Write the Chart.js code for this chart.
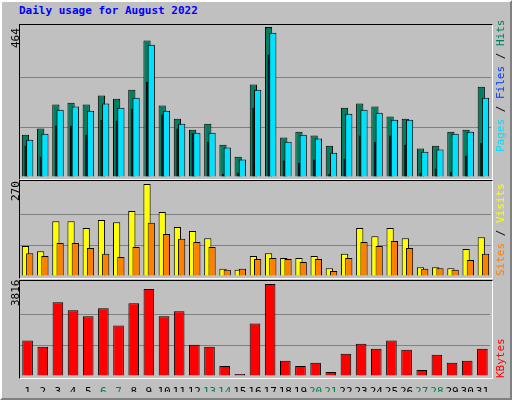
<!DOCTYPE html>
<html>
<head>
<meta charset="utf-8">
<script src="https://cdn.jsdelivr.net/npm/chart.js@4/dist/chart.umd.min.js"></script>
<style>
  body { margin: 0; width: 512px; height: 400px; background: #c0c0c0; position: relative; overflow: hidden; font-family: "DejaVu Sans Mono", monospace; }
  #frame { position: absolute; left: 0; top: 0; width: 508px; height: 396px; border-top: 2px solid #fff; border-left: 2px solid #fff; border-right: 2px solid #808080; border-bottom: 2px solid #808080; }
  .box { position: absolute; left: 19px; width: 472px; border-top: 1px solid #000; border-left: 1px solid #000; border-right: 1px solid #fff; border-bottom: 1px solid #fff; }
  canvas { position: absolute; }
  .rot { position: absolute; transform-origin: 0 0; transform: rotate(-90deg); white-space: nowrap; font-size: 11px; }
  #title { position: absolute; left: 19px; top: 4px; color: #0000ff; font-weight: bold; font-size: 11px; }
</style>
</head>
<body>
<div id="frame"></div>
<div id="title"></div>
<div class="box" style="top:24px;height:154px"></div>
<div class="box" style="top:180px;height:97px"></div>
<div class="box" style="top:280px;height:97px"></div>
<canvas id="c1a" style="left:20px;top:27px"></canvas>
<canvas id="c1b" style="left:20px;top:27px"></canvas>
<canvas id="c1c" style="left:20px;top:27px"></canvas>
<canvas id="c2a" style="left:20px;top:184px"></canvas>
<canvas id="c2b" style="left:20px;top:184px"></canvas>
<canvas id="c3" style="left:20px;top:284px"></canvas>
<div class="rot" id="max1" style="left:9px;top:48px"></div>
<div class="rot" id="max2" style="left:9px;top:201px"></div>
<div class="rot" id="max3" style="left:9px;top:306px"></div>
<div class="rot" id="leg1" style="left:494px;top:152px"></div>
<div class="rot" id="leg2" style="left:494px;top:276px"></div>
<div class="rot" id="leg3" style="left:494px;top:378px"></div>
<script>
const title = "Daily usage for August 2022";
const days = ["1","2","3","4","5","6","7","8","9","10","11","12","13","14","15","16","17","18","19","20","21","22","23","24","25","26","27","28","29","30","31"];
const weekend = ["6","7","13","14","20","21","27","28"];

const hits = [131,150,224,230,224,252,242,270,422,221,180,146,165,100,63,286,464,122,140,128,97,214,227,218,187,180,88,97,140,146,279];
const files = [115,134,208,218,205,227,214,245,409,205,165,137,137,91,54,270,446,109,131,119,75,196,208,199,177,177,78,85,134,140,245];
const pages = [97,63,159,159,131,177,174,211,295,193,150,137,109,10,13,214,378,51,44,54,10,57,128,109,128,100,13,26,16,66,106];
const visits = [88,73,161,161,141,164,158,191,270,188,144,132,111,21,18,59,67,53,53,59,23,65,141,117,141,111,26,26,23,79,114];
const sites = [67,59,97,97,82,65,56,85,156,123,109,100,85,18,21,50,53,50,41,50,15,53,100,88,103,82,21,23,18,47,65];
const kbytes = [1468,1216,3061,2726,2474,2810,2097,3020,3607,2474,2684,1300,1216,419,84,2181,3816,629,419,545,168,923,1342,1132,1468,1090,252,881,545,629,1132];

const maxHits = 464, maxVisits = 270, maxKbytes = 3816;

document.getElementById("title").textContent = title;
document.getElementById("max1").textContent = maxHits;
document.getElementById("max2").textContent = maxVisits;
document.getElementById("max3").textContent = maxKbytes;
document.getElementById("leg1").innerHTML =
  '<span style="color:#00e0ff">Pages</span> / <span style="color:#0040ff">Files</span> / <span style="color:#008060">Hits</span>';
document.getElementById("leg2").innerHTML =
  '<span style="color:#ff8000">Sites</span> / <span style="color:#ffff00">Visits</span>';
document.getElementById("leg3").innerHTML = '<span style="color:#ff0000">KBytes</span>';

const empty = days.map(() => null);

function bar(data, color, bp, cp) {
  return { data: data, backgroundColor: color, borderColor: "#000", borderWidth: 1,
    borderSkipped: "bottom", barPercentage: bp, categoryPercentage: cp || 0.56 };
}

// each layer is its own chart on a stacked canvas, so the right bar is drawn over the left one
function makeChart(id, w, h, datasets, max, showDays, showGrid) {
  const cv = document.getElementById(id);
  cv.width = w; cv.height = h;
  cv.style.width = w + "px";
  cv.style.height = h + "px";
  return new Chart(cv, {
    type: "bar",
    data: { labels: days, datasets: datasets },
    options: { responsive: false, animation: false, devicePixelRatio: 1,
      layout: { padding: 0 },
      plugins: { legend: { display: false }, tooltip: { enabled: false } },
      scales: {
        x: { display: showDays, offset: true, grid: { display: false }, border: { display: false },
          ticks: { color: (c) => weekend.includes(days[c.index]) ? "#008040" : "#000",
            font: { family: "DejaVu Sans Mono", size: 11 }, maxRotation: 0, autoSkip: false, padding: 2 },
          afterFit: (s) => { if (showDays) s.height = 16; } },
        y: { min: 0, max: max, display: true,
          ticks: { display: false, stepSize: max / 3 }, border: { display: false },
          grid: { drawTicks: false, lineWidth: 1,
            color: (c) => (showGrid && c.tick.value > 0 && c.tick.value < max - 1) ? "#808080" : "rgba(0,0,0,0)" },
          afterFit: (s) => { s.width = 0; } }
      } }
  });
}

makeChart("c1a", 471, 150, [bar(hits, "#008060", 1.7), bar(empty, "#000", 1.7)], maxHits, false, true);
makeChart("c1b", 471, 150, [bar(empty, "#000", 1.7), bar(files, "#00e0ff", 1.7)], maxHits, false, false);
makeChart("c1c", 471, 150, [bar(pages, "#0040ff", 0.5), bar(empty, "#000", 0.5)], maxHits, false, false);

makeChart("c2a", 471, 92, [bar(visits, "#ffff00", 1.7), bar(empty, "#000", 1.7)], maxVisits, false, true);
makeChart("c2b", 471, 92, [bar(empty, "#000", 1.7), bar(sites, "#ff8000", 1.7)], maxVisits, false, false);

makeChart("c3", 471, 108, [bar(kbytes, "#ff0000", 0.7, 1)], maxKbytes, true, true);
</script>
</body>
</html>
